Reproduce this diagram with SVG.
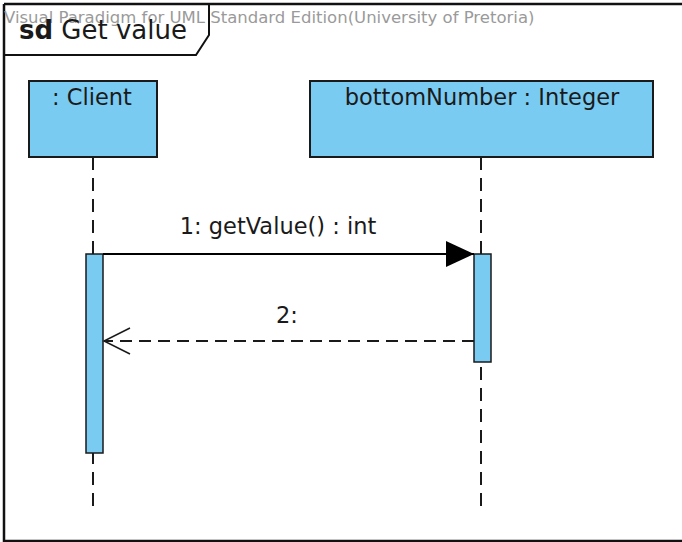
<svg xmlns="http://www.w3.org/2000/svg" width="682" height="542" viewBox="0 0 682 542">
<style>
.t{font-family:"DejaVu Sans","Liberation Sans",sans-serif;fill:#1a1a1a}
.box{fill:#7acbf2;stroke:#1a1a1a;stroke-width:2}
.life{stroke:#1a1a1a;stroke-width:2;stroke-dasharray:13 8;fill:none}
.act{fill:#7acbf2;stroke:#1a1a1a;stroke-width:1.5}
</style>
<defs>
<marker id="filled" markerUnits="userSpaceOnUse" markerWidth="30" markerHeight="30" refX="28" refY="13" orient="auto">
<path d="M0,0 L28,13 L0,26 Z" fill="#000"/>
</marker>
<marker id="open" markerUnits="userSpaceOnUse" markerWidth="30" markerHeight="30" refX="28" refY="14" orient="auto">
<path d="M2,1 L28,14 L2,27" fill="none" stroke="#1a1a1a" stroke-width="1.5"/>
</marker>
</defs>
<rect x="0" y="0" width="682" height="542" fill="#fff"/>
<g id="frame">
<path d="M4,4 L690,4 M4,4 L4,541 L690,541" fill="none" stroke="#111" stroke-width="2.5"/>
<path d="M4,55 L196,55 L209,35 L209,4" fill="none" stroke="#111" stroke-width="2"/>
<text x="4" y="23" font-family="DejaVu Sans,sans-serif" font-size="16.5" fill="#9a9a9a">Visual Paradigm for UML Standard Edition(University of Pretoria)</text>
<text x="19" y="39" class="t" font-size="26"><tspan font-weight="bold">sd</tspan> Get value</text>
</g>
<g id="lifelines">
<line class="life" x1="93" y1="157" x2="93" y2="508"/>
<line class="life" x1="481" y1="157" x2="481" y2="508"/>
</g>
<g id="client">
<rect class="box" x="29" y="81" width="128" height="76"/>
<text class="t" x="92" y="105" font-size="22.5" text-anchor="middle">: Client</text>
</g>
<g id="bottomNumber">
<rect class="box" x="310" y="81" width="343" height="76"/>
<text class="t" x="482" y="105" font-size="22.5" text-anchor="middle">bottomNumber : Integer</text>
</g>
<g id="activations">
<rect class="act" x="86" y="254" width="17" height="199"/>
<rect class="act" x="474" y="254" width="17" height="108"/>
</g>
<g id="connectors">
<line x1="103" y1="254" x2="474" y2="254" stroke="#000" stroke-width="2" marker-end="url(#filled)"/>
<text class="t" x="278" y="234" font-size="22.5" text-anchor="middle">1: getValue() : int</text>
<line x1="474" y1="341" x2="104" y2="341" stroke="#1a1a1a" stroke-width="2" stroke-dasharray="12 7" marker-end="url(#open)"/>
<text class="t" x="287" y="323" font-size="22.5" text-anchor="middle">2:</text>
</g>
</svg>
